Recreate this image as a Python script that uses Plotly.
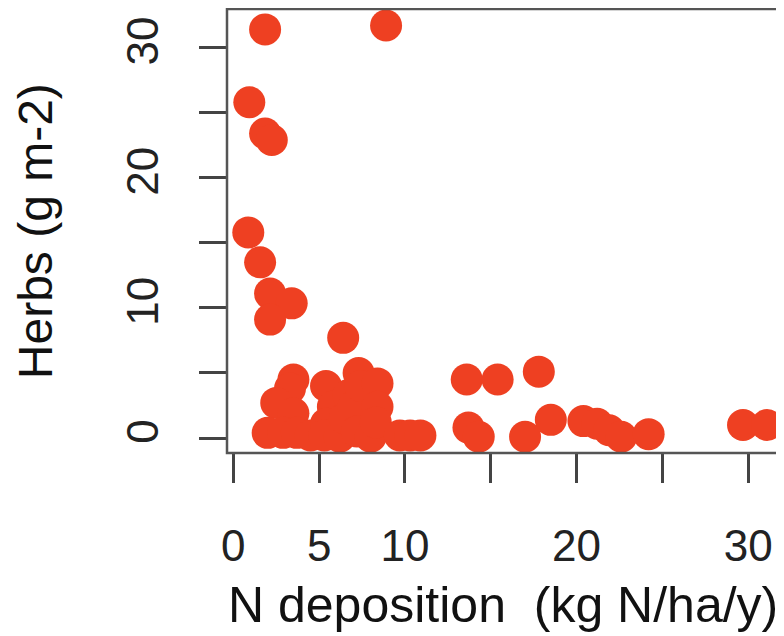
import plotly.graph_objects as go

# N deposition (kg N/ha/y)
n_deposition = [1.85, 8.9, 0.93, 1.85, 2.24, 0.87, 1.56, 2.14, 3.4, 2.14,
                6.4, 3.5, 3.3, 2.5, 3.5, 2.0, 2.9, 3.7, 4.5, 5.4,
                5.8, 5.4, 5.3, 6.2, 6.5, 6.7, 7.0, 7.3, 7.4, 7.2,
                8.0, 8.4, 8.4, 8.3, 9.7, 10.3, 10.9, 13.6, 15.4, 17.8,
                13.7, 14.3, 17.0, 18.5, 20.4, 21.2, 21.9, 22.6, 24.2, 29.7,
                31.1]
# Herbs (g m-2)
herbs = [31.4, 31.7, 25.8, 23.4, 22.9, 15.8, 13.5, 11.1, 10.35, 9.1,
         7.7, 4.5, 3.8, 2.7, 1.9, 0.4, 0.4, 0.4, 0.2, 4.0,
         2.4, 1.1, 0.2, 0.1, 1.5, 3.3, 2.4, 5.0, 4.0, 0.5,
         0.1, 4.2, 2.4, 1.2, 0.2, 0.2, 0.2, 4.5, 4.5, 5.1,
         0.8, 0.1, 0.1, 1.4, 1.3, 1.1, 0.6, 0.1, 0.3, 1.0,
         1.0]

x_tickvals = [0, 5, 10, 15, 20, 25, 30]
x_ticktext = ["0", "5", "10", "", "20", "", "30"]
y_tickvals = [0, 5, 10, 15, 20, 25, 30]
y_ticktext = ["0", "", "10", "", "20", "", "30"]

x_title = "N deposition  (kg N/ha/y)"
y_title = "Herbs (g m-2)"

FONT = "Liberation Sans, Arial, sans-serif"
TICK_COLOR = "#444444"

fig = go.Figure()
fig.add_trace(go.Scatter(
    x=n_deposition, y=herbs, mode="markers",
    marker=dict(size=32, color="rgb(238,64,34)", line=dict(width=0)),
    showlegend=False, hoverinfo="x+y",
))

# page body adds an 8px margin, so the figure is 8px smaller on each side
fig.update_layout(
    width=776, height=628,
    margin=dict(l=219, r=1, t=1, b=183),
    paper_bgcolor="white", plot_bgcolor="white",
    font=dict(family=FONT, color="#222222"),
    xaxis=dict(
        range=[-0.37, 32.03], tickmode="array",
        tickvals=x_tickvals, ticktext=x_ticktext,
        ticks="outside", ticklen=29, tickwidth=2.5, tickcolor=TICK_COLOR,
        showgrid=False, zeroline=False, showline=False,
        tickfont=dict(size=44, family=FONT, color="#222222"),
        ticklabelstandoff=25,
    ),
    yaxis=dict(
        range=[-1.15, 32.97], tickmode="array",
        tickvals=y_tickvals, ticktext=y_ticktext,
        ticks="outside", ticklen=27, tickwidth=2.5, tickcolor=TICK_COLOR,
        showgrid=False, zeroline=False, showline=False,
        tickangle=-90,
        tickfont=dict(size=44, family=FONT, color="#222222"),
        ticklabelstandoff=23,
    ),
    shapes=[dict(type="rect", xref="paper", yref="paper",
                 x0=0, x1=1, y0=0, y1=1,
                 line=dict(color="#555555", width=2.5), layer="above")],
    annotations=[
        dict(text=x_title, xref="paper", yref="paper", x=0.496, y=-0.342,
             xanchor="center", yanchor="middle", showarrow=False,
             font=dict(size=50, family=FONT, color="#111111")),
        dict(text=y_title, xref="paper", yref="paper", x=-0.345, y=0.5,
             xanchor="center", yanchor="middle", showarrow=False, textangle=-90,
             font=dict(size=48, family=FONT, color="#111111")),
    ],
)

fig.write_html("out.html")
